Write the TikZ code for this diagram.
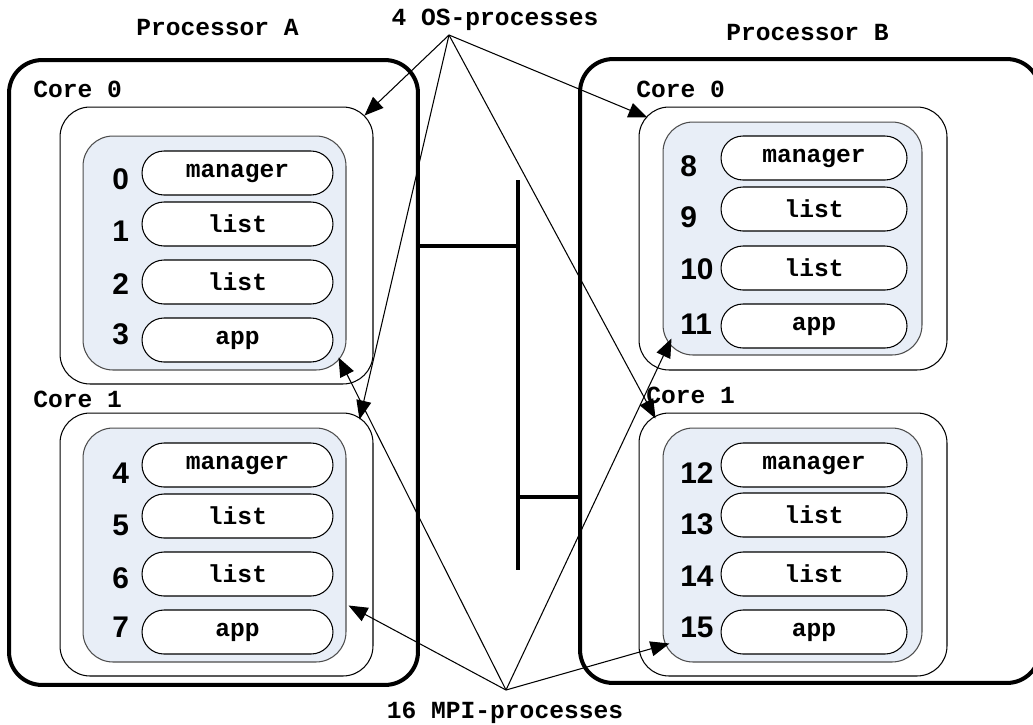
\documentclass[tikz,border=0pt]{standalone}
\usepackage{fontspec}
\setsansfont{Liberation Sans}
\setmonofont{Liberation Mono}
\usepackage{tikz}
\usetikzlibrary{arrows.meta}
\usetikzlibrary{calc}
\usepackage{xcolor}
\definecolor{rankfill}{HTML}{E8EEF7}
\tikzset{
    processor/.style={
        draw,
        line width=2.3pt,
        rounded corners=0.66cm,
        inner sep=0pt
    },
    core/.style={
        draw,
        line width=0.6pt,
        rounded corners=0.6cm,
        fill=white,
        inner sep=0pt
    },
    rankbox/.style={
        draw=black!70,
        line width=0.6pt,
        rounded corners=0.6cm,
        fill=rankfill,
        inner sep=0pt
    },
    task/.style={
        draw,
        line width=0.6pt,
        rounded corners=0.44cm,
        fill=white,
        minimum height=0.88cm,
        inner sep=0pt,
        font=\ttfamily\bfseries\fontsize{14}{16}\selectfont
    },
    rank/.style={
        anchor=west,
        inner sep=0pt,
        font=\sffamily\bfseries\fontsize{17}{19}\selectfont
    },
    title/.style={
        inner sep=0pt,
        font=\ttfamily\bfseries\fontsize{14}{16}\selectfont
    },
    bus/.style={line width=2.3pt},
    pointer/.style={
        line width=0.6pt,
        -{Triangle[length=0.38cm, width=0.3cm]}
    }
}

\begin{document}
\begin{tikzpicture}[x=0.02cm, y=-0.02cm]
  \useasboundingbox (0,0) rectangle (1033,724);

  % Processor frames
  \node[processor, minimum width=8.18cm, minimum height=12.5cm] (procA) at (213.5,372.5) {};
  \node[processor, minimum width=9.2cm, minimum height=12.48cm] (procB) at (810,371) {};
  \node[title, anchor=base] (titleA) at (217.5,35) {Processor A};
  \node[title, anchor=base] (titleB) at (807.5,40) {Processor B};

  % Cores of processor A
  \node[core, minimum width=6.26cm, minimum height=5.54cm] (coreA0) at (216.5,245.5) {};
  \node[core, minimum width=6.26cm, minimum height=5.26cm] (coreA1) at (216.5,544.5) {};
  \node[title, anchor=base west] (labA0) at (33,97) {Core 0};
  \node[title, anchor=base west] (labA1) at (33,407) {Core 1};
  \node[rankbox, minimum width=5.26cm, minimum height=4.68cm] (rankA0) at (214.5,253) {};
  \node[rankbox, minimum width=5.26cm, minimum height=4.68cm] (rankA1) at (214.5,545) {};

  % Cores of processor B
  \node[core, minimum width=6.16cm, minimum height=5.26cm] (coreB0) at (793,238.5) {};
  \node[core, minimum width=6.16cm, minimum height=5.26cm] (coreB1) at (793,544.5) {};
  \node[title, anchor=base west] (labB0) at (636,97) {Core 0};
  \node[title, anchor=base west] (labB1) at (646,403) {Core 1};
  \node[rankbox, minimum width=5.18cm, minimum height=4.66cm] (rankB0) at (792.5,238.5) {};
  \node[rankbox, minimum width=5.18cm, minimum height=4.68cm] (rankB1) at (792.5,545) {};

  % MPI processes on A, core 0
  \node[task, minimum width=3.82cm] (t0) at (237.5,173) {manager};
  \node[task, minimum width=3.82cm] (t1) at (237.5,224) {list};
  \node[task, minimum width=3.82cm] (t2) at (237.5,282) {list};
  \node[task, minimum width=3.82cm] (t3) at (237.5,340) {app};
  \node[rank] (r0) at (112,179) {0};
  \node[rank] (r1) at (112,231) {1};
  \node[rank] (r2) at (112,284) {2};
  \node[rank] (r3) at (112,334) {3};

  % MPI processes on A, core 1
  \node[task, minimum width=3.82cm] (t4) at (237.5,465) {manager};
  \node[task, minimum width=3.82cm] (t5) at (237.5,516) {list};
  \node[task, minimum width=3.82cm] (t6) at (237.5,574) {list};
  \node[task, minimum width=3.82cm] (t7) at (237.5,632) {app};
  \node[rank] (r4) at (112,473) {4};
  \node[rank] (r5) at (112,525) {5};
  \node[rank] (r6) at (112,578) {6};
  \node[rank] (r7) at (112,627) {7};

  % MPI processes on B, core 0
  \node[task, minimum width=3.72cm] (t8) at (814,158) {manager};
  \node[task, minimum width=3.72cm] (t9) at (814,209) {list};
  \node[task, minimum width=3.72cm] (t10) at (814,268) {list};
  \node[task, minimum width=3.72cm] (t11) at (814,326) {app};
  \node[rank] (r8) at (680,166) {8};
  \node[rank] (r9) at (680,217) {9};
  \node[rank] (r10) at (680,269) {10};
  \node[rank] (r11) at (680,324) {11};

  % MPI processes on B, core 1
  \node[task, minimum width=3.72cm] (t12) at (814,465) {manager};
  \node[task, minimum width=3.72cm] (t13) at (814,515) {list};
  \node[task, minimum width=3.72cm] (t14) at (814,574) {list};
  \node[task, minimum width=3.72cm] (t15) at (814,632) {app};
  \node[rank] (r12) at (680,473) {12};
  \node[rank] (r13) at (680,524) {13};
  \node[rank] (r14) at (680,576) {14};
  \node[rank] (r15) at (680,627) {15};

  % Interconnect between the processors
  \coordinate (bustop) at (518,180);
  \coordinate (busbot) at (518,570);
  \coordinate (busA) at (518,246);
  \coordinate (busB) at (518,497);
  \draw[bus] (bustop) -- (busbot);
  \draw[bus] (busA) -- (busA -| procA.east);
  \draw[bus] (busB) -- (busB -| procB.west);

  % OS processes: one per core
  \node[title, anchor=base] (oslabel) at (495,25) {4 OS-processes};
  \coordinate (os) at (449,35);
  \draw[pointer] (os) -- ($(coreA0.north east)+(-9,9)$);
  \draw[pointer] (os) -- ($(coreA1.north east)+(-14,7)$);
  \draw[pointer] (os) -- ($(coreB0.north west)+(9,11)$);
  \draw[pointer] (os) -- ($(coreB1.north west)+(17,6)$);

  % MPI processes: four per core
  \node[title, anchor=base] (mpilabel) at (505,718) {16 MPI-processes};
  \coordinate (mpi) at (506,690);
  \draw[pointer] (mpi) -- ($(rankA0.south east)+(-8,-13)$);
  \draw[pointer] (mpi) -- ($(rankA1.south east)+(2,-57)$);
  \draw[pointer] (mpi) -- ($(rankB0.south west)+(9,-17)$);
  \draw[pointer] (mpi) -- ($(rankB1.south west)+(7,-19)$);
\end{tikzpicture}
\end{document}
